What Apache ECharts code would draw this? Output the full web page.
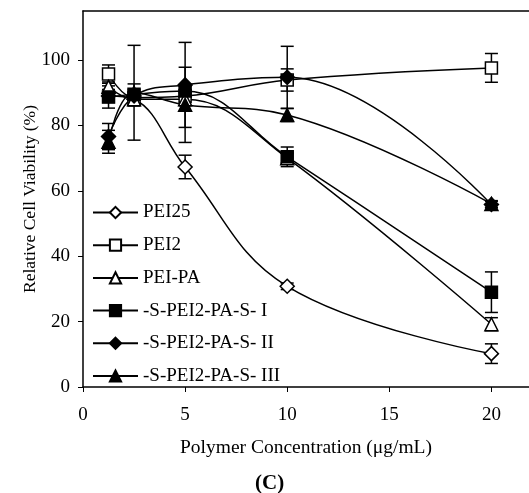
<!DOCTYPE html>
<html><head><meta charset="utf-8">
<script src="https://cdn.jsdelivr.net/npm/echarts@6/dist/echarts.min.js"></script>
<style>html,body{margin:0;padding:0;background:#fff}#c{width:529px;height:493px}</style>
</head><body><div id="c"></div>
<script>
const xVals = [1.25, 2.5, 5, 10, 20];
const seriesNames = ['PEI25', 'PEI2', 'PEI-PA', '-S-PEI2-PA-S- I', '-S-PEI2-PA-S- II', '-S-PEI2-PA-S- III'];
const pei25 = [89, 88, 67.3, 30.8, 10.2];
const pei25Err = [2, 2, 3.6, 1, 3];
const pei2 = [95.7, 88.5, 89, 93.9, 97.6];
const pei2Err = [2.8, 2, 2, 3.4, 4.4];
const peiPa = [91.8, 88, 88, 70, 19.2];
const peiPaErr = [1.5, 2, 2, 1.5, 2];
const s1 = [88.7, 89.5, 90.5, 70.4, 29];
const s1Err = [3.4, 3.2, 2, 3, 6.2];
const s2 = [76.6, 89, 92.4, 94.7, 55.8];
const s2Err = [4, 2, 13, 9.5, 1];
const s3 = [75, 90, 86.3, 83.2, 56];
const s3Err = [3.5, 14.5, 11.5, 2, 1];
const xTicks = [0, 5, 10, 15, 20];
const yTicks = [0, 20, 40, 60, 80, 100];

const vals = [pei25, pei2, peiPa, s1, s2, s3];
const errs = [pei25Err, pei2Err, peiPaErr, s1Err, s2Err, s3Err];
const symbols = ['diamond', 'rect', 'triangle', 'rect', 'diamond', 'triangle'];
const sizes = [14, 12, 13, 12, 14, 13];
const fills = ['#fff', '#fff', '#fff', '#000', '#000', '#000'];
const font = 'Liberation Serif';

const chart = echarts.init(document.getElementById('c'));
const series = [];
vals.forEach((v, i) => {
  series.push({
    type: 'custom', silent: true, z: 1,
    data: xVals.map((x, j) => [x, v[j], errs[i][j]]),
    renderItem: (params, api) => {
      const x = api.value(0), y = api.value(1), e = api.value(2);
      const top = api.coord([x, y + e]);
      const bot = api.coord([x, y - e]);
      const w = 6.5;
      const st = {stroke: '#000', lineWidth: 1.5};
      return {type: 'group', children: [
        {type: 'line', shape: {x1: top[0], y1: top[1], x2: bot[0], y2: bot[1]}, style: st},
        {type: 'line', shape: {x1: top[0]-w, y1: top[1], x2: top[0]+w, y2: top[1]}, style: st},
        {type: 'line', shape: {x1: bot[0]-w, y1: bot[1], x2: bot[0]+w, y2: bot[1]}, style: st}
      ]};
    }
  });
});
vals.forEach((v, i) => {
  series.push({
    name: seriesNames[i], type: 'line', z: 3,
    data: xVals.map((x, j) => [x, v[j]]),
    smooth: 0.4,
    symbol: symbols[i], symbolSize: sizes[i],
    showAllSymbol: true,
    lineStyle: {color: '#000', width: 1.5},
    itemStyle: {color: fills[i], borderColor: '#000', borderWidth: 1.5, opacity: 1},
    emphasis: {disabled: true}
  });
});

chart.setOption({
  animation: false,
  backgroundColor: '#fff',
  grid: {left: 83, top: 11, right: 0, height: 376, show: false, containLabel: false},
  legend: {
    orient: 'vertical', left: 92, top: 203, padding: 0,
    data: seriesNames,
    itemWidth: 45, itemHeight: 14, itemGap: 13.7,
    textStyle: {fontFamily: font, fontSize: 19, color: '#000', padding: [0,0,0,0]},
    inactiveColor: '#000', selectedMode: false
  },
  xAxis: [{
    type: 'value', min: 0, max: 21.84, interval: 5,
    name: 'Polymer Concentration (\u03bcg/mL)', nameLocation: 'middle', nameGap: 51, nameMoveOverlap: false,
    nameTextStyle: {fontFamily: font, fontSize: 19.5, color: '#000'},
    axisLine: {lineStyle: {color: '#000', width: 1.5}},
    axisTick: {show: true, inside: false, length: 5, lineStyle: {color: '#000', width: 1}, customValues: xTicks},
    axisLabel: {fontFamily: font, fontSize: 19, color: '#000', margin: 19, customValues: xTicks},
    splitLine: {show: false}
  }, {
    type: 'value', min: 0, max: 21.84, position: 'top',
    axisLine: {show: true, lineStyle: {color: '#000', width: 1.5}},
    axisTick: {show: false}, axisLabel: {show: false}, splitLine: {show: false}
  }],
  yAxis: {
    type: 'value', min: 0, max: 115, interval: 20,
    name: 'Relative Cell Viability (%)', nameLocation: 'middle', nameGap: 44, nameRotate: 90, nameMoveOverlap: false,
    nameTextStyle: {fontFamily: font, fontSize: 17.5, color: '#000'},
    axisLine: {show: true, lineStyle: {color: '#000', width: 1.5}},
    axisTick: {show: true, inside: false, length: 5, lineStyle: {color: '#000', width: 1}, customValues: yTicks},
    axisLabel: {fontFamily: font, fontSize: 19, color: '#000', margin: 13, customValues: yTicks},
    splitLine: {show: false}
  },
  graphic: [{type: 'text', left: 255, top: 473, style: {text: '(C)', font: 'bold 21px "Liberation Serif"', fill: '#000'}}],
  series: series
});
</script></body></html>
